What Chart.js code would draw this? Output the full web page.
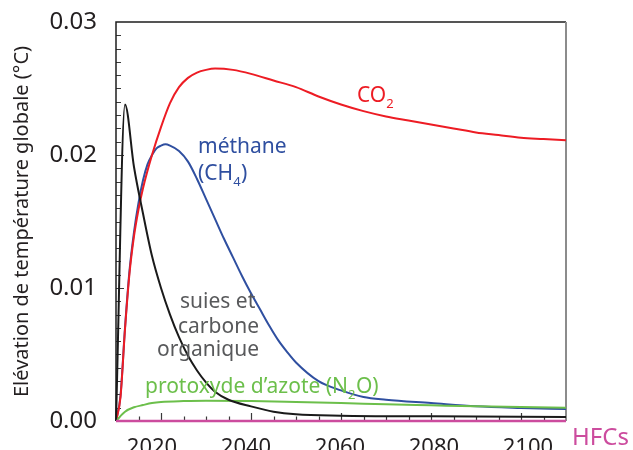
<!DOCTYPE html>
<html><head><meta charset="utf-8">
<script src="https://cdn.jsdelivr.net/npm/chart.js@4.4.1/dist/chart.umd.min.js"></script>
<style>html,body{margin:0;padding:0;overflow:hidden;background:#fff}canvas{display:block}</style>
</head><body>
<canvas id="c" width="633" height="462"></canvas>
<script>
// ---- data ----
const co2Years   = [2010,2011,2012,2013,2014,2015,2016,2018,2020,2022,2024,2026,2028,2030,2032,2036,2040,2045,2050,2055,2060,2065,2070,2075,2080,2085,2090,2095,2100,2105,2110];
const co2Values  = [0,0.0018,0.0069,0.0111,0.0139,0.0159,0.0175,0.0200,0.0221,0.0239,0.0251,0.0258,0.0262,0.0264,0.0265,0.0264,0.0261,0.0256,0.0251,0.0244,0.0238,0.0233,0.0229,0.0226,0.0223,0.0220,0.0217,0.0215,0.0213,0.0212,0.0211];

const ch4Years   = [2010,2011,2012,2013,2014,2015,2016,2017,2018,2019,2020,2021,2022,2024,2026,2028,2030,2032,2034,2036,2038,2040,2042,2044,2046,2048,2050,2055,2060,2065,2070,2080,2090,2100,2110];
const ch4Values  = [0,0.0019,0.0070,0.0113,0.0142,0.0164,0.0181,0.0193,0.0200,0.0205,0.0207,0.0208,0.0207,0.0203,0.0195,0.0182,0.0167,0.0152,0.0137,0.0123,0.0109,0.0096,0.0084,0.0072,0.0061,0.0052,0.0044,0.0030,0.0023,0.0018,0.0016,0.00135,0.0011,0.00098,0.0009];

const sootYears  = [2010,2012,2014,2016,2018,2020,2022,2024,2026,2028,2030,2032,2035,2040,2045,2050,2060,2080,2110];
const sootValues = [0,0.0238,0.0191,0.0156,0.0124,0.0100,0.0080,0.0063,0.0049,0.0038,0.0029,0.0022,0.0016,0.0011,0.0007,0.0005,0.0004,0.00035,0.0003];

const n2oYears   = [2010,2012,2014,2016,2018,2020,2025,2030,2040,2050,2060,2070,2080,2090,2100,2110];
const n2oValues  = [0,0.0007,0.00103,0.0012,0.00135,0.00143,0.0015,0.00153,0.0015,0.00143,0.00135,0.00126,0.00118,0.0011,0.00105,0.001];

const hfcYears   = [2010,2110];
const hfcValues  = [0,0];

const xTickYears  = [2020,2040,2060,2080,2100];
const yTickLabels = ['0.00','0.01','0.02','0.03'];
const yTitle = 'Elévation de température globale (°C)';

const pts = (xs, ys) => xs.map((x, i) => ({x, y: ys[i]}));

const FONT = "'Noto Sans', 'DejaVu Sans', sans-serif";

function drawParts(ctx, parts, x, y, size, subSize, color) {
  ctx.fillStyle = color;
  ctx.textBaseline = 'alphabetic';
  ctx.textAlign = 'left';
  let cx = x;
  for (const [t, isSub] of parts) {
    ctx.font = (isSub ? subSize : size) + 'px ' + FONT;
    ctx.fillText(t, cx, isSub ? y + Math.round(size * 0.28) : y);
    cx += ctx.measureText(t).width + (isSub ? 0.5 : 0);
  }
}

const decor = {
  id: 'decor',
  beforeDatasetsDraw(chart) {
    const {ctx, chartArea: a, scales: {x, y}} = chart;
    ctx.save();
    ctx.strokeStyle = '#3a3a3a';
    ctx.lineWidth = 1.2;
    ctx.beginPath();
    for (let i = 1; i < 30; i++) {
      const py = Math.round(y.getPixelForValue(i / 1000)) + 0.5;
      const len = i % 10 === 0 ? 8 : 5;
      ctx.moveTo(a.left, py); ctx.lineTo(a.left + len, py);
    }
    for (let yr = 2015; yr < 2110; yr += 5) {
      const px = Math.round(x.getPixelForValue(yr)) + 0.5;
      const len = yr % 20 === 0 ? 8 : 4.5;
      ctx.moveTo(px, a.bottom); ctx.lineTo(px, a.bottom - len);
    }
    ctx.stroke();
    ctx.lineWidth = 1.5;
    ctx.strokeStyle = '#1e1e1e';
    ctx.beginPath();
    ctx.moveTo(a.left, a.bottom); ctx.lineTo(a.left, a.top); ctx.lineTo(a.right, a.top);
    ctx.moveTo(a.left, a.bottom); ctx.lineTo(a.right, a.bottom);
    ctx.stroke();
    ctx.strokeStyle = '#8c8c8c';
    ctx.lineWidth = 2;
    ctx.beginPath();
    ctx.moveTo(a.right, a.top); ctx.lineTo(a.right, a.bottom);
    ctx.stroke();
    ctx.restore();
  },
  afterDatasetsDraw(chart) {
    const ctx = chart.ctx;
    ctx.save();
    drawParts(ctx, [['CO', false], ['2', true]], 357, 102, 21, 13, '#ed1c24');
    drawParts(ctx, [['méthane', false]], 198, 153, 21, 13, '#2f4fa0');
    drawParts(ctx, [['(CH', false], ['4', true], [')', false]], 198, 180, 21, 13, '#2f4fa0');
    drawParts(ctx, [['suies et', false]], 180, 308, 21, 13, '#58595b');
    drawParts(ctx, [['carbone', false]], 178, 333, 21, 13, '#58595b');
    drawParts(ctx, [['organique', false]], 157, 356, 21, 13, '#58595b');
    drawParts(ctx, [['protoxyde d\u2019azote (N', false], ['2', true], ['O)', false]], 145, 393, 21, 13, '#6cbf4b');
    drawParts(ctx, [['HFCs', false]], 572, 445, 24, 14, '#cc4c9e');
    ctx.restore();
  }
};

const ds = (label, xs, ys, color, w) => ({
  label, data: pts(xs, ys), borderColor: color, borderWidth: w,
  pointRadius: 0, fill: false, cubicInterpolationMode: 'monotone', clip: false
});

const noPad = s => { s.paddingTop = 0; s.paddingBottom = 0; s.paddingLeft = 0; s.paddingRight = 0; };

new Chart(document.getElementById('c'), {
  type: 'line',
  data: {
    datasets: [
      ds('HFCs', hfcYears, hfcValues, '#cc4c9e', 2.5),
      ds('suies et carbone organique', sootYears, sootValues, '#1a1a1a', 2),
      ds('protoxyde d\u2019azote (N2O)', n2oYears, n2oValues, '#6cbf4b', 2),
      ds('CO2', co2Years, co2Values, '#ed1c24', 2),
      ds('méthane (CH4)', ch4Years, ch4Values, '#2f4fa0', 2)
    ]
  },
  options: {
    responsive: false,
    animation: false,
    events: [],
    layout: {padding: {top: 22, right: 67, left: 0, bottom: 0}},
    plugins: {legend: {display: false}, tooltip: {enabled: false}},
    scales: {
      x: {
        type: 'linear', min: 2010, max: 2110, position: 'bottom',
        grid: {display: false, drawTicks: false},
        border: {display: false},
        ticks: {display: false},
        afterFit: s => { s.height = 0; noPad(s); }
      },
      // label axis: the reference prints its year labels slightly off the tick marks
      xLabels: {
        type: 'linear', min: 2012.34, max: 2108.1, position: 'bottom',
        grid: {display: false, drawTicks: false},
        border: {display: false},
        afterBuildTicks: s => { s.ticks = xTickYears.map(v => ({value: v})); },
        afterFit: s => { s.height = 41; noPad(s); },
        ticks: {
          padding: 14, color: '#231f20', maxRotation: 0, autoSkip: false,
          font: {family: FONT, size: 22},
          callback: v => String(v)
        }
      },
      y: {
        min: 0, max: 0.03,
        grid: {display: false, drawTicks: false},
        border: {display: false},
        afterBuildTicks: s => { s.ticks = yTickLabels.map(t => ({value: parseFloat(t)})); },
        afterFit: s => { s.width = 116; noPad(s); },
        ticks: {
          padding: 19, color: '#231f20',
          font: {family: FONT, size: 24},
          callback: (v, i) => yTickLabels[i]
        },
        title: {
          display: true, text: yTitle, color: '#231f20',
          font: {family: FONT, size: 20},
          padding: {top: 10, bottom: 0}
        }
      }
    }
  },
  plugins: [decor]
});
</script>
</body></html>
